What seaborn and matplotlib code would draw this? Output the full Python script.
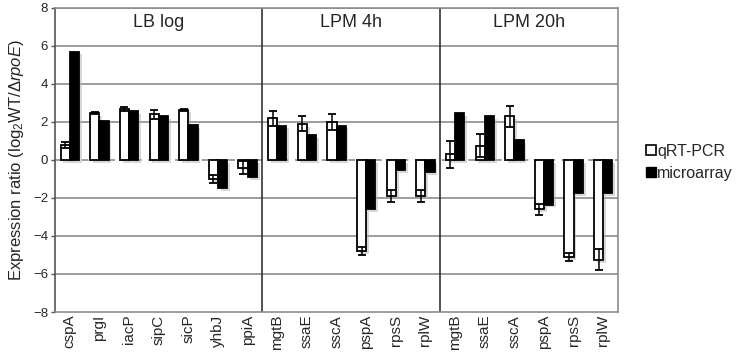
import pandas as pd
import matplotlib
matplotlib.use('Agg')
import matplotlib.pyplot as plt
import matplotlib.patheffects as pe
from matplotlib.lines import Line2D
import seaborn as sns

# --- data ---
conditions = ['LB log', 'LPM 4h', 'LPM 20h']
genes_lb = ['cspA', 'prgI', 'iacP', 'sipC', 'sicP', 'yhbJ', 'ppiA']
genes_4h = ['mgtB', 'ssaE', 'sscA', 'pspA', 'rpsS', 'rplW']
genes_20h = ['mgtB', 'ssaE', 'sscA', 'pspA', 'rpsS', 'rplW']

qrt_lb = [0.8, 2.45, 2.7, 2.4, 2.65, -1.0, -0.4]
qrt_4h = [2.2, 1.9, 2.0, -4.8, -1.9, -1.9]
qrt_20h = [0.3, 0.75, 2.3, -2.6, -5.1, -5.25]

qrt_err_lb = [0.15, 0.05, 0.1, 0.25, 0.05, 0.2, 0.35]
qrt_err_4h = [0.4, 0.4, 0.4, 0.2, 0.3, 0.3]
qrt_err_20h = [0.7, 0.6, 0.55, 0.3, 0.2, 0.55]

micro_lb = [5.7, 2.05, 2.55, 2.3, 1.85, -1.5, -0.9]
micro_4h = [1.8, 1.3, 1.8, -2.6, -0.55, -0.65]
micro_20h = [2.45, 2.3, 1.05, -2.35, -1.75, -1.75]

methods = ['qRT-PCR', 'microarray']

genes = genes_lb + genes_4h + genes_20h
groups = [conditions[0]] * len(genes_lb) + [conditions[1]] * len(genes_4h) + [conditions[2]] * len(genes_20h)
keys = [f'{g}|{n}' for g, n in zip(groups, genes)]
qrt = qrt_lb + qrt_4h + qrt_20h
qrt_err = qrt_err_lb + qrt_err_4h + qrt_err_20h
micro = micro_lb + micro_4h + micro_20h

df = pd.DataFrame({
    'key': keys * 2,
    'method': [methods[0]] * len(keys) + [methods[1]] * len(keys),
    'value': qrt + micro,
})

# --- style ---
sns.set_style('white')
plt.rcParams['font.family'] = ['Liberation Sans', 'DejaVu Sans']
plt.rcParams['mathtext.fontset'] = 'custom'
plt.rcParams['mathtext.rm'] = 'Liberation Sans'
plt.rcParams['mathtext.it'] = 'Liberation Sans:italic'

fig = plt.figure(figsize=(7.37, 3.57), dpi=100)
ax = fig.add_axes([0.0746, 0.126, 0.764, 0.852])

shadow = [pe.SimplePatchShadow(offset=(2, -2), shadow_rgbFace='#b0b0b0', alpha=0.5), pe.Normal()]

sns.barplot(data=df, x='key', y='value', hue='method', order=keys, hue_order=methods,
            palette={'qRT-PCR': 'white', 'microarray': 'black'}, width=0.62,
            edgecolor='black', linewidth=1.3, errorbar=None, legend=False, ax=ax, zorder=3)
for p in ax.patches:
    p.set_path_effects(shadow)

xpos = [i - 0.155 for i in range(len(keys))]
ax.errorbar(xpos, qrt, yerr=qrt_err, fmt='none', ecolor='black', elinewidth=1.1,
            capsize=3, capthick=1.3, zorder=4)

ax.set_ylim(-8, 8)
ax.set_xlim(-0.5, len(keys) - 0.5)
ax.set_yticks(range(-8, 9, 2))
ax.tick_params(axis='y', labelsize=9.5, length=3, width=1, color='#555555', direction='out', left=True, pad=2)
ax.set_xticks(range(len(keys)))
ax.set_xticklabels(genes, rotation=90, fontsize=11)
ax.tick_params(axis='x', length=0, pad=2)
ax.set_xlabel('')
ax.set_ylabel(r'Expression ratio (log$_2$WT/$\Delta$$\mathit{rpoE}$)', fontsize=12, labelpad=5)

for y in [-6, -4, -2, 2, 4, 6, 8]:
    ax.axhline(y, color='#8c8c8c', lw=1.2, zorder=1)
ax.axhline(0, color='#8c8c8c', lw=1.2, ls=(0, (4, 4)), zorder=1)

for s in ax.spines.values():
    s.set_color('#8c8c8c')
    s.set_linewidth(1.2)
ax.spines['left'].set_color('#555555')

n1 = len(genes_lb)
n2 = n1 + len(genes_4h)
for b in [n1 - 0.5, n2 - 0.5]:
    ax.axvline(b, color='#333333', lw=1.2, zorder=2)

centers = [(n1 - 1) / 2, (n1 + n2 - 1) / 2, (n2 + len(keys) - 1) / 2]
for c, name in zip(centers, conditions):
    ax.text(c, 7.25, name, ha='center', va='center', fontsize=13)

handles = [Line2D([], [], marker='s', ls='', markersize=6.5, markerfacecolor='white',
                  markeredgecolor='black', markeredgewidth=1.2),
           Line2D([], [], marker='s', ls='', markersize=6.5, markerfacecolor='black',
                  markeredgecolor='black')]
fig.legend(handles, methods, loc='center left', bbox_to_anchor=(0.855, 0.545), frameon=False,
           fontsize=11.5, handletextpad=0.0, labelspacing=0.45, handlelength=0.8)

fig.savefig('out.png', dpi=100)
